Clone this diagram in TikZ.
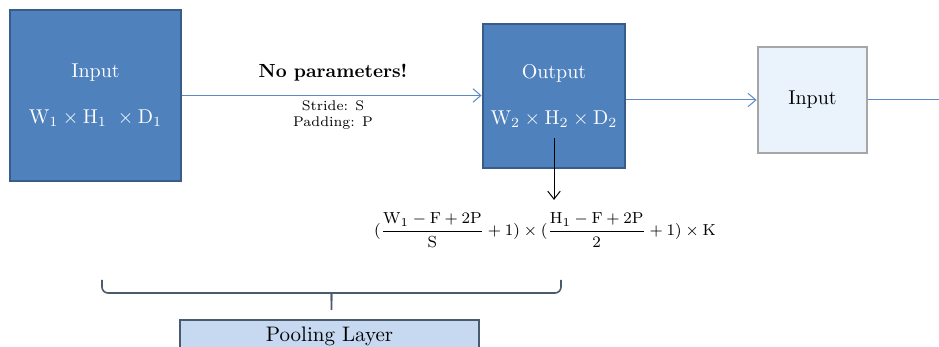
\documentclass[tikz,border=0pt]{standalone}
\usepackage{amsmath,amssymb}
\usepackage{xcolor}
\usepackage{tikz}
\usetikzlibrary{arrows.meta,positioning,calc}
\definecolor{layerblue}{HTML}{4F81BD}
\definecolor{layeredge}{HTML}{385D8A}
\definecolor{paleblue}{HTML}{EAF2FB}
\definecolor{paleedge}{HTML}{A6A6A6}
\definecolor{linkblue}{HTML}{5B8AC6}
\definecolor{bracegray}{HTML}{4A5B6E}
\definecolor{poolfill}{HTML}{C6D9F1}
\tikzset{
  volume/.style={
    draw=layeredge,
    fill=layerblue,
    line width=1.4pt,
    align=center,
    text=white,
    font=\fontsize{10}{23}\selectfont
  },
  nextvol/.style={
    draw=paleedge,
    fill=paleblue,
    line width=1.4pt,
    align=center,
    font=\fontsize{10}{12}\selectfont
  },
  flowarrow/.style={
    -{Straight Barb[length=1.4mm,width=2.4mm]},
    line width=0.5pt,
    draw=linkblue
  },
  calcarrow/.style={
    -{Straight Barb[length=1.4mm,width=2.2mm]},
    line width=0.5pt,
    draw=black
  },
  bracket/.style={
    draw=bracegray,
    line width=0.8pt,
    rounded corners=3pt
  },
  poolbox/.style={
    draw=bracegray,
    fill=poolfill,
    line width=0.8pt,
    minimum width=149.5pt,
    text depth=14pt,
    font=\fontsize{10.5}{12}\selectfont
  }
}
\begin{document}
\begin{tikzpicture}[x=0.5pt,y=0.5pt]
    \clip (0,0) rectangle (939,347);
    \node[volume, minimum width=85.5pt, minimum height=85.5pt] (in1) at (95.5,251.5) {Input\\$\mathrm{W_1 \times H_1\ \times D_1}$};
    \node[volume, minimum width=71pt, minimum height=72pt] (out) at (554,251) {Output\\$\mathrm{W_2 \times H_2 \times D_2}$};
    \node[nextvol, minimum width=54.5pt, minimum height=53pt] (in2) at (812.5,247) {Input};
    \coordinate (edge) at (939,248);
    \draw[flowarrow] (in1.east) -- (in1.east -| out.west);
    \draw[flowarrow] (out.east |- in2) -- (in2.west);
    \draw[draw=linkblue, line width=0.5pt] (in2.east) -- (in2.east -| edge);
    \node[font=\fontsize{9.5}{11}\selectfont\bfseries] (nopar) at (333,274) {No parameters!};
    \node[align=center, font=\fontsize{7}{8}\selectfont] (hyper) at (333,232) {Stride: S\\Padding: P};
    \node[font=\fontsize{8.5}{10}\selectfont] (size) at (545,117) {$(\dfrac{\mathrm{W_1} - \mathrm{F} + 2\mathrm{P}}{\mathrm{S}} + 1) \times (\dfrac{\mathrm{H_1} - \mathrm{F} + 2\mathrm{P}}{2} + 1) \times \mathrm{K}$};
    \coordinate (tap) at (554,209);
    \draw[calcarrow, shorten >=3pt] (tap) -- (tap |- size.north);
    \coordinate (braceL) at (102,67);
    \coordinate (braceR) at (561,67);
    \coordinate (tip) at (331.5,37);
    \draw[bracket] (braceL) |- ($(tip)+(-6,17)$) .. controls ($(tip)+(0,17)$) .. ($(tip)+(0,9)$) -- (tip);
    \draw[bracket] (braceR) |- ($(tip)+(6,17)$) .. controls ($(tip)+(0,17)$) .. ($(tip)+(0,9)$);
    \node[poolbox, anchor=north] (pool) at (329.5,28) {Pooling Layer};
  \end{tikzpicture}
\end{document}
